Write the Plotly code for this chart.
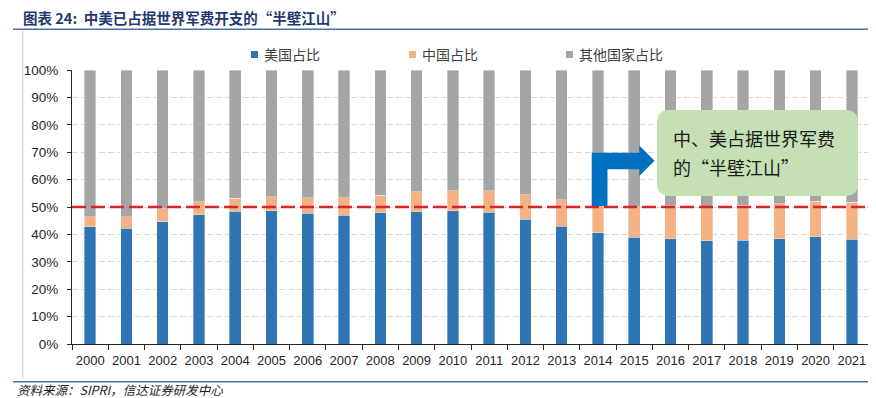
import plotly.graph_objects as go

years = [str(y) for y in range(2000, 2022)]
us_share = [42.8, 42.3, 44.6, 47.2, 48.4, 48.7, 47.7, 46.9, 47.9, 48.3, 48.7,
            48.0, 45.6, 43.0, 40.6, 39.0, 38.5, 37.6, 37.9, 38.5, 39.1, 38.2]
china_share = [3.6, 4.1, 4.7, 4.7, 4.8, 5.1, 5.7, 6.4, 6.3, 7.2, 7.3,
               7.9, 8.9, 9.7, 10.0, 11.1, 11.9, 12.5, 12.8, 12.7, 13.0, 13.6]
other_share = [round(100 - u - c, 1) for u, c in zip(us_share, china_share)]

series_names = ["美国占比", "中国占比", "其他国家占比"]
series_colors = ["#2E75B6", "#F4B183", "#A5A5A5"]
title_text = "图表 24:  中美已占据世界军费开支的“半壁江山”"
note_lines = ["中、美占据世界军费", "的“半壁江山”"]
source_text = "资料来源：SIPRI，信达证券研发中心"
half_line = 0.5

# page body has an 8px default margin; work in window pixels and shift
OFF = 8
WIN_W, WIN_H = 876, 398
PL, PR, PT, PB = 72, 870, 70, 344          # plot area in window pixels
W, H = WIN_W - OFF, WIN_H - OFF
L, R, T, B = PL - OFF, W - (PR - OFF), PT - OFF, H - (PB - OFF)
PW, PH = PR - PL, PB - PT


def px(x):
    return (x - PL) / PW


def py(y):
    return (PB - y) / PH


fig = go.Figure()
for name, vals, col in zip(series_names, [us_share, china_share, other_share], series_colors):
    fig.add_trace(go.Bar(
        x=years, y=[v / 100 for v in vals], name=name,
        marker=dict(color=col, line=dict(color="rgba(255,255,255,0.45)", width=0.8)),
        showlegend=False,
    ))

base_font = "Liberation Sans, Arial, Noto Sans CJK SC, sans-serif"
cjk_font = "Noto Sans CJK SC, Liberation Sans, sans-serif"

shapes = []
annotations = []

# manual legend
legend_x = [251, 409, 566]
for name, col, lx in zip(series_names, series_colors, legend_x):
    shapes.append(dict(type="rect", xref="paper", yref="paper",
                       x0=px(lx), x1=px(lx + 7), y0=py(51), y1=py(58),
                       fillcolor=col, line=dict(width=0)))
    annotations.append(dict(xref="paper", yref="paper", x=px(lx + 11), y=py(54.5),
                            xanchor="left", yanchor="middle", showarrow=False,
                            text=name, font=dict(family=cjk_font, size=14, color="#404040")))

# frame lines
shapes.append(dict(type="line", xref="paper", yref="paper", x0=px(13), x1=px(880),
                   y0=py(29.3), y1=py(29.3), line=dict(color="#4A6FA5", width=1.5)))
shapes.append(dict(type="line", xref="paper", yref="paper", x0=px(13), x1=px(880),
                   y0=py(381.7), y1=py(381.7), line=dict(color="#4A6FA5", width=1.5)))
shapes.append(dict(type="line", xref="paper", yref="paper", x0=px(22.7), x1=px(22.7),
                   y0=py(31), y1=py(378), line=dict(color="#C8C8C8", width=1)))

# 50% reference line
shapes.append(dict(type="line", xref="paper", yref="y", x0=0, x1=1, y0=half_line, y1=half_line,
                   layer="above", line=dict(color="#D9262A", width=2.5, dash="14px,5px")))

# elbow arrow
pts = [(591.7, 206), (591.7, 152.7), (639.3, 152.7), (639.3, 145.5), (654.5, 160.8),
       (639.3, 176), (639.3, 169.3), (607.5, 169.3), (607.5, 206)]
path = "M " + " L ".join(f"{px(a):.5f},{py(b):.5f}" for a, b in pts) + " Z"
shapes.append(dict(type="path", xref="paper", yref="paper", path=path, layer="above",
                   fillcolor="#0070C0", line=dict(width=0)))

# rounded box
x0, y0, x1, y1, r = 657, 110, 858, 196, 13
def P(a, b):
    return f"{px(a):.5f},{py(b):.5f}"
box = (f"M {P(x0 + r, y0)} L {P(x1 - r, y0)} Q {P(x1, y0)} {P(x1, y0 + r)} "
       f"L {P(x1, y1 - r)} Q {P(x1, y1)} {P(x1 - r, y1)} L {P(x0 + r, y1)} "
       f"Q {P(x0, y1)} {P(x0, y1 - r)} L {P(x0, y0 + r)} Q {P(x0, y0)} {P(x0 + r, y0)} Z")
shapes.append(dict(type="path", xref="paper", yref="paper", path=box, layer="above",
                   fillcolor="#C5E0B4", line=dict(width=0)))

for line_txt, ly in zip(note_lines, [137.5, 167]):
    annotations.append(dict(xref="paper", yref="paper", x=px(671), y=py(ly),
                            xanchor="left", yanchor="middle", showarrow=False,
                            text=line_txt, font=dict(family=cjk_font, size=18, color="#1A1A1A")))

annotations.append(dict(xref="paper", yref="paper", x=px(15), y=py(389.5),
                        xanchor="left", yanchor="middle", showarrow=False,
                        text=f"<i>{source_text}</i>",
                        font=dict(family=cjk_font, size=12.5, color="#222222")))

fig.update_layout(
    width=W, height=H, autosize=False,
    margin=dict(l=L, r=R, t=T, b=B, autoexpand=False),
    paper_bgcolor="white", plot_bgcolor="white",
    barmode="stack", bargap=0.68,
    showlegend=False,
    title=dict(text=f"<b>{title_text}</b>", x=(23 - OFF) / W, xanchor="left",
               y=1 - (19 - OFF) / H, yanchor="middle", xref="container", yref="container",
               font=dict(family=cjk_font, size=14.5, color="#1F3A6E")),
    shapes=shapes, annotations=annotations,
    font=dict(family=base_font, size=13, color="#262626"),
)
fig.update_xaxes(type="category", showline=True, linecolor="#262626", linewidth=1,
                 ticks="outside", tickson="boundaries", ticklen=5, tickcolor="#262626",
                 tickangle=0, automargin=False,
                 tickfont=dict(family=base_font, size=13, color="#262626"),
                 ticklabelstandoff=4, showgrid=False)
fig.update_yaxes(range=[0, 1], dtick=0.1, tickformat=".0%", showline=True,
                 linecolor="#262626", linewidth=1, ticks="outside", ticklen=4,
                 automargin=False,
                 tickcolor="#262626", tickfont=dict(family=base_font, size=13.5, color="#262626"),
                 ticklabelstandoff=6, showgrid=True, gridcolor="#D9D9D9", gridwidth=1,
                 griddash="6px,3px", zeroline=False)

fig.write_html("out.html")
